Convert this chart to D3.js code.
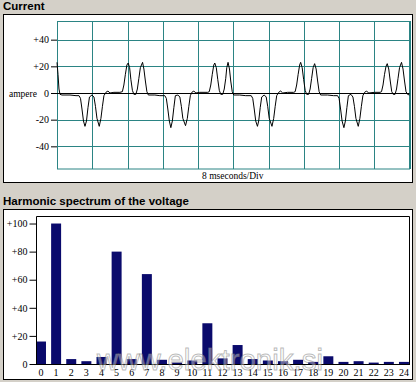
<!DOCTYPE html>
<html><head><meta charset="utf-8">
<script src="https://cdn.jsdelivr.net/npm/d3@7/dist/d3.min.js"></script>
<style>
html,body{margin:0;padding:0;background:#d4d0c8;}
svg{display:block;}
</style></head>
<body>
<script>
// ---- Current waveform (time in ms, current in A) ----
const timeMs = [0.00,0.23,0.45,0.68,1.13,2.95,4.31,4.99,
 5.33,5.67,6.01,6.35,6.69,7.03,7.37,7.93,8.39,8.73,9.07,9.59,9.97,10.31,10.65,11.10,11.56,12.01,12.92,14.28,14.84,
 15.18,15.52,15.86,16.16,16.48,16.77,17.11,17.45,17.90,18.24,18.58,18.92,19.42,19.72,20.06,20.40,20.73,22.21,23.34,24.47,
 24.81,25.15,25.49,25.84,26.18,26.52,26.86,27.43,27.88,28.22,28.56,29.17,29.58,29.92,30.26,30.60,31.05,31.50,32.41,34.22,34.56,
 34.90,35.24,35.58,35.81,36.15,36.49,36.83,37.17,37.62,37.96,38.30,38.53,38.82,39.14,39.43,39.77,40.11,41.47,42.83,44.08,
 44.42,44.76,45.10,45.49,45.78,46.12,46.46,47.03,47.48,47.82,48.16,48.79,49.18,49.52,49.86,50.31,50.76,51.22,52.35,53.71,54.05,
 54.39,54.73,55.07,55.30,55.64,55.98,56.32,56.66,57.11,57.45,57.79,58.13,58.47,58.81,59.15,59.49,59.83,61.41,62.77,63.68,
 64.02,64.36,64.70,65.11,65.45,65.79,66.13,66.70,67.16,67.50,67.84,68.37,68.74,69.08,69.42,69.80,70.26,70.71,72.07,73.31,73.65,
 73.99,74.33,74.67,74.95,75.29,75.63,75.97,76.31,76.72,77.06,77.40,77.74,78.19,78.53,78.87,79.21,79.55,80.00];
const currentA = [23,14,3,-1,-1.5,-1.5,-2,-2,
 -4,-12,-21,-25,-21,-11,-3,-1.5,-3,-10,-19,-25,-19,-10,-2,0.5,1.5,0,0.5,0.5,1,
 6,14,21,22.5,19,10,2,-1,-1,3,11,19,23,18,9,1,-1.5,-1.5,-2,-2,
 -4,-12,-21,-26,-21,-11,-2,-1.5,-3,-10,-19,-24.5,-19,-10,-2,0.5,1.5,0,0.5,0.5,1,
 6,14,21,22.5,19,10,2,-1,-1,3,11,19,23,18,9,1,-1.5,-1.5,-2,-2,
 -4,-12,-21,-25,-21,-11,-3,-1.5,-3,-10,-19,-25,-19,-10,-2,0.5,1.5,0,0.5,0.5,1,
 6,14,21,23,19,10,2,-1,-1,3,11,19,22,18,9,1,-1.5,-1.5,-2,-2,
 -4,-12,-21,-26,-21,-11,-2,-1,-3,-10,-19,-25,-19,-10,-2,0.5,1.5,0,0.5,0.5,1,
 6,14,20,22,18,9,1,-1,-1,3,11,19,23,18,9,1,-1,-1.5];
const currentTicks = [40,20,0,-20,-40];
const currentTickLabels = ["+40","+20","0","-20","-40"];

// ---- Harmonic spectrum of the voltage ----
const harmonics = d3.range(0,25);
const harmonicValues = [16,100,3.5,2,5,80,3.5,64,3,1,2.5,29,4,13.5,3.5,2.5,2,3,1.5,5.5,1.5,2,1,1.5,1.5];
const spectrumTicks = [100,80,60,40,20,0];
const spectrumTickLabels = ["+100","+80","+60","+40","+20","0"];

const W=416,H=382;
const svg=d3.select("body").append("svg").attr("width",W).attr("height",H);
svg.append("rect").attr("width",W).attr("height",H).attr("fill","#d4d0c8");

const serif="'Liberation Serif','Times New Roman',serif";
const bold="'Liberation Sans',Arial,sans-serif";
const teal="#2b8484";

// ===== Top panel =====
svg.append("text").attr("x",3).attr("y",10).attr("font-family",bold).attr("font-weight","bold")
  .attr("font-size",11.5).attr("fill","#000").text("Current");
svg.append("rect").attr("x",3.5).attr("y",14.5).attr("width",409).attr("height",168)
  .attr("fill","#fff").attr("stroke","#000");

const xT=d3.scaleLinear().domain([0,80]).range([57,409.5]);
const yT=d3.scaleLinear().domain([-57,54]).range([169,21]);

const gT=svg.append("g");
gT.selectAll("line.v").data(d3.range(0,81,8)).join("line")
  .attr("x1",d=>Math.round(xT(d))+0.5).attr("x2",d=>Math.round(xT(d))+0.5)
  .attr("y1",yT.range()[1]).attr("y2",yT.range()[0]).attr("stroke",teal);
gT.selectAll("line.h").data(currentTicks.filter(d=>d!==0)).join("line")
  .attr("x1",57).attr("x2",409.5).attr("y1",d=>Math.round(yT(d))+0.5).attr("y2",d=>Math.round(yT(d))+0.5)
  .attr("stroke",teal);
gT.append("rect").attr("x",57.5).attr("y",21.5).attr("width",352).attr("height",147.5)
  .attr("fill","none").attr("stroke",teal);
gT.append("line").attr("x1",57).attr("x2",409.5).attr("y1",Math.round(yT(0))+0.5).attr("y2",Math.round(yT(0))+0.5)
  .attr("stroke","#000");
const axT=d3.axisLeft(yT).tickValues(currentTicks).tickFormat((d,i)=>currentTickLabels[i]).tickSize(6).tickPadding(2);
const axTg=svg.append("g").attr("transform","translate(57,0)").call(axT);
axTg.select(".domain").remove();
axTg.selectAll("text").attr("font-family",serif).attr("font-size",10).attr("fill","#000");
axTg.selectAll("line").attr("stroke","#000");
const line=d3.line().x((d,i)=>xT(timeMs[i])).y(d=>yT(d));
svg.append("path").attr("d",line(currentA)).attr("fill","none").attr("stroke","#000").attr("stroke-width",1);
svg.append("text").attr("x",9).attr("y",97).attr("font-family",serif).attr("font-size",9.5).text("ampere");
svg.append("text").attr("x",202).attr("y",179).attr("font-family",serif).attr("font-size",9.5).text("8 mseconds/Div");

// ===== Bottom panel =====
svg.append("text").attr("x",3).attr("y",205).attr("font-family",bold).attr("font-weight","bold")
  .attr("font-size",11.5).attr("fill","#000").text("Harmonic spectrum of the voltage");
svg.append("rect").attr("x",3.5).attr("y",209.5).attr("width",409).attr("height",170)
  .attr("fill","#fff").attr("stroke","#000");

const xB=d3.scaleBand().domain(harmonics).range([36,414.1]).padding(0);
const yB=d3.scaleLinear().domain([0,105]).range([364,216.5]);

svg.append("g").selectAll("rect").data(harmonicValues).join("rect")
  .attr("x",(d,i)=>xB(harmonics[i])).attr("width",xB.bandwidth()*0.66)
  .attr("y",d=>yB(d)).attr("height",d=>yB(0)-yB(d)).attr("fill","#0a0a6c");

svg.append("path").attr("d","M36.5,364V216.5H409.5V364").attr("fill","none").attr("stroke","#000");
svg.append("line").attr("x1",36).attr("x2",410).attr("y1",364.5).attr("y2",364.5).attr("stroke","#000");

const axBy=d3.axisLeft(yB).tickValues(spectrumTicks).tickFormat((d,i)=>spectrumTickLabels[i]).tickSize(7).tickPadding(2);
const gBy=svg.append("g").attr("transform","translate(36.5,0)").call(axBy);
gBy.select(".domain").remove();
gBy.selectAll("text").attr("font-family",serif).attr("font-size",10).attr("fill","#000");
gBy.selectAll("line").attr("stroke","#000");

const axBx=d3.axisBottom(xB).tickSize(0).tickPadding(5);
const gBx=svg.append("g").attr("transform","translate(0,364)").call(axBx);
gBx.select(".domain").remove();
gBx.selectAll(".tick").attr("transform",d=>`translate(${xB(d)+5},0)`);
gBx.selectAll("text").attr("font-family",serif).attr("font-size",10).attr("fill","#000");

// watermark
svg.append("text").attr("x",97).attr("y",370).attr("font-family","'Liberation Sans',Arial,sans-serif")
  .attr("font-size",30).attr("textLength",226).attr("lengthAdjust","spacingAndGlyphs")
  .attr("fill","rgba(255,255,255,0.4)").attr("stroke","rgba(120,120,120,0.5)")
  .attr("stroke-width",1).text("www.elektronik.si");
</script>
</body></html>
